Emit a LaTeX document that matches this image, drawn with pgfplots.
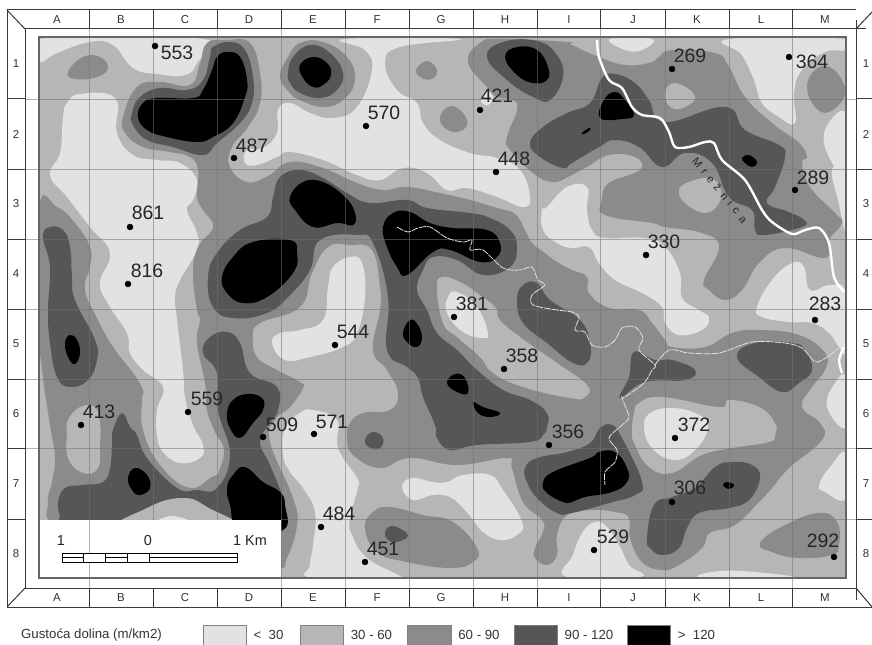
\documentclass[border=0pt]{standalone}
\usepackage{fontspec}
\setmainfont{Liberation Sans}
\usepackage{pgfplots}
\pgfplotsset{compat=1.18}
\definecolor{cA}{HTML}{E2E2E2}
\definecolor{cB}{HTML}{B6B6B6}
\definecolor{cC}{HTML}{8B8B8B}
\definecolor{cD}{HTML}{565656}
\definecolor{cE}{HTML}{000000}
\definecolor{fr}{HTML}{3A3A3A}
% smooth region, square region, line
\newcommand\reg[2]{\addplot[fill=#1,draw=none,smooth cycle,tension=0.75] coordinates {#2};}
\newcommand\rect[3]{\addplot[fill=#1,#2] coordinates {#3} -- cycle;}
\newcommand\lin[2]{\addplot[#1] coordinates {#2};}
\newcommand\pnt[3]{\node[font=\fontsize{19.5}{19.5}\selectfont,text=black!85,inner sep=0pt] at (axis cs:#1,#2) {#3};}
\newcommand\tk[3]{\node[font=\fontsize{11.5}{11.5}\selectfont,text=black!80,inner sep=0pt] at (axis cs:#1,#2) {#3};}
\newcommand\lgd[3]{\node[font=\fontsize{13.3}{13.3}\selectfont,text=black!80,inner sep=0pt] at (axis cs:#1,#2) {#3};}
\begin{document}
\begin{tikzpicture}
\begin{axis}[
    scale only axis, width=872bp, height=645bp,
    xmin=0, xmax=872, ymin=0, ymax=645, y dir=reverse,
    hide axis, clip=true]
% base class 30-60
\rect{cB}{draw=none}{(40,38) (845,38) (845,577) (40,577)}
% class < 30
\reg{cA}{(39,39) (203,39) (197,63) (185,75) (157,74) (133,68) (113,45) (90,42) (57,53) (39,62)}
\reg{cA}{(80,94) (115,98) (117,133) (133,155) (157,160) (180,163) (197,180) (193,200) (187,210) (197,233) (197,250) (180,280) (175,297) (177,320) (183,370) (185,397) (193,425) (203,445) (200,458) (180,463) (163,452) (157,435) (157,410) (163,387) (143,370) (130,353) (127,333) (110,307) (100,283) (110,253) (90,227) (67,197) (50,175) (60,153) (63,117) (67,103)}
\reg{cA}{(345,39) (460,39) (400,47) (385,63) (397,90) (417,103) (423,123) (440,140) (470,153) (497,158) (520,170) (530,197) (523,207) (497,197) (467,188) (447,190) (427,173) (403,168) (380,180) (357,175) (323,160) (290,152) (277,157) (257,165) (245,163) (247,150) (263,148) (277,133) (278,110) (290,103) (310,113) (333,118) (357,107) (372,70) (365,50)}
\reg{cA}{(486,91) (493,97) (488,105) (481,101)}
\reg{cA}{(542,210) (547,207) (567,187) (587,187) (587,210) (592,230) (605,238) (645,238) (665,247) (680,273) (682,298) (699,310) (709,318) (702,330) (679,335) (665,323) (662,307) (642,293) (615,280) (599,263) (589,247) (572,248) (557,243) (543,230)}
\reg{cA}{(757,307) (772,280) (792,263) (804,267) (810,290) (830,285) (846,293) (846,350) (839,347) (829,333) (812,323) (789,322) (762,317)}
\reg{cA}{(610,39) (652,39) (642,50) (625,50)}
\reg{cA}{(729,39) (846,39) (846,50) (825,52) (802,70) (794,93) (795,123) (779,117) (762,103) (754,80) (742,55)}
\reg{cA}{(846,113) (825,130) (829,157) (846,172)}
\reg{cA}{(832,170) (846,170) (846,230) (838,200)}
\reg{cA}{(827,407) (835,383) (846,378) (846,427)}
\reg{cA}{(350,257) (362,263) (365,297) (357,333) (343,347) (310,357) (285,360) (272,343) (280,333) (300,330) (323,320) (328,287) (333,267)}
\reg{cA}{(300,413) (313,410) (337,420) (338,448) (357,478) (358,488) (350,518) (352,535) (367,558) (398,575) (398,578) (313,578) (310,565) (313,545) (315,512) (303,488) (290,472) (283,455) (285,428)}
\reg{cA}{(402,487) (412,478) (433,482) (447,482) (463,475) (490,475) (503,490) (522,522) (517,535) (500,540) (483,532) (472,518) (463,508) (450,497) (433,495) (413,500)}
\reg{cA}{(592,523) (605,525) (619,545) (629,565) (640,577) (567,577) (573,555) (581,535)}
\reg{cA}{(819,485) (830,467) (846,453) (846,498) (825,492)}
\reg{cA}{(702,578) (720,571) (765,573) (790,578)}
% class 60-90
\reg{cC}{(207,43) (227,40) (250,43) (260,73) (260,103) (248,127) (232,147) (230,167) (247,182) (268,176) (290,162) (323,168) (357,183) (383,190) (407,187) (440,193) (470,200) (497,208) (515,214) (525,230) (532,243) (545,253) (557,262) (572,270) (587,277) (589,293) (609,308) (639,310) (652,323) (665,340) (672,347) (705,347) (732,333) (759,330) (799,335) (825,353) (825,370) (812,387) (802,407) (820,423) (822,440) (789,468) (772,488) (759,502) (735,525) (710,533) (702,548) (679,565) (662,570) (642,562) (630,538) (629,518) (615,512) (590,510) (567,515) (557,535) (557,555) (547,565) (535,558) (535,548) (543,532) (542,520) (523,502) (512,468) (507,458) (457,465) (410,458) (380,468) (353,455) (347,438) (350,423) (363,413) (390,410) (398,393) (387,370) (373,350) (380,310) (380,287) (372,250) (350,245) (328,247) (312,273) (300,307) (260,323) (253,337) (257,357) (277,370) (300,382) (303,388) (290,407) (275,420) (270,442) (293,498) (297,525) (287,558) (278,565) (240,525) (217,490) (224,452) (215,432) (207,410) (205,383) (197,343) (200,320) (197,310) (193,273) (198,247) (213,227) (203,210) (197,197) (198,170) (190,157) (170,152) (143,147) (125,133) (123,117) (137,87) (160,82) (190,85) (200,63)}
\reg{cC}{(39,207) (57,207) (75,223) (90,247) (90,267) (85,290) (98,320) (113,347) (133,373) (143,390) (142,400) (143,430) (160,465) (190,488) (217,475) (240,480) (280,530) (130,530) (57,525) (48,502) (52,482) (55,458) (50,425) (43,377) (39,327)}
\reg{cC}{(468,62) (480,43) (500,39) (567,42) (572,45) (599,57) (625,65) (649,63) (659,57) (672,50) (715,53) (729,67) (745,97) (772,123) (799,143) (807,157) (802,163) (810,187) (835,213) (842,223) (829,240) (825,258) (785,248) (759,263) (742,290) (725,300) (709,290) (704,280) (719,247) (702,233) (665,227) (652,223) (605,215) (602,200) (609,183) (640,170) (635,157) (609,155) (587,167) (572,175) (553,182) (533,173) (510,150) (507,137) (517,110) (513,100) (497,97) (487,87)}
\reg{cC}{(68,72) (83,57) (100,57) (108,68) (97,77) (75,79)}
\reg{cC}{(416,70) (427,61) (437,70) (432,79) (422,78)}
\reg{cC}{(440,117) (450,106) (463,113) (467,125) (457,132) (445,128)}
\reg{cC}{(807,87) (815,70) (829,67) (842,80) (844,97) (829,112) (815,107)}
\reg{cC}{(365,528) (373,512) (390,507) (423,515) (453,522) (477,548) (473,562) (450,568) (407,562) (377,552)}
\reg{cC}{(760,543) (785,525) (819,513) (837,522) (839,545) (832,555) (799,558) (772,552)}
\reg{cC}{(280,77) (288,57) (300,43) (323,42) (347,57) (355,80) (343,100) (323,107) (300,100) (290,93)}
% class 30-60 and < 30 inside the darker areas
\reg{cB}{(437,287) (443,277) (460,282) (477,293) (495,307) (500,320) (520,337) (557,363) (587,385) (585,397) (570,398) (523,387) (493,373) (480,357) (457,337) (443,323)}
\reg{cB}{(68,420) (80,407) (95,407) (100,423) (100,445) (98,468) (83,473) (68,458) (67,432)}
\reg{cB}{(665,97) (669,85) (682,85) (695,97) (685,107) (672,108)}
\reg{cB}{(679,190) (689,182) (709,178) (720,187) (719,203) (705,213) (685,203)}
\reg{cB}{(634,413) (639,403) (662,397) (719,407) (729,400) (759,407) (775,423) (775,435) (769,442) (732,448) (702,455) (672,473) (649,467) (635,445) (632,432)}
\reg{cB}{(572,382) (588,388) (585,396) (572,397)}
\reg{cA}{(448,297) (457,292) (477,307) (488,333) (483,338) (463,332) (447,313)}
\reg{cA}{(644,425) (652,412) (672,408) (695,413) (708,425) (697,448) (675,460) (652,448)}
% class 90-120
\reg{cD}{(273,197) (280,177) (300,170) (323,178) (347,193) (370,203) (407,200) (427,208) (470,213) (490,218) (510,230) (517,247) (510,267) (483,275) (457,260) (433,257) (423,270) (417,290) (427,310) (437,333) (457,350) (477,370) (503,390) (530,400) (547,413) (547,427) (543,435) (530,442) (477,445) (450,450) (437,438) (435,425) (423,397) (418,378) (407,367) (387,350) (388,297) (373,243) (357,235) (320,240) (310,270) (290,295) (267,313) (233,318) (213,307) (208,277) (217,253) (240,230) (267,217)}
\reg{cD}{(213,47) (230,42) (245,50) (253,77) (252,103) (240,123) (217,143) (203,155) (173,147) (147,140) (133,125) (132,113) (140,97) (160,88) (187,90) (203,80) (210,57)}
\reg{cD}{(288,73) (293,57) (310,45) (330,53) (343,73) (337,90) (320,98) (300,93) (290,83)}
\reg{cD}{(487,57) (503,42) (537,41) (557,55) (563,77) (550,100) (533,97) (507,80)}
\reg{cD}{(530,143) (543,127) (567,113) (590,103) (602,78) (615,74) (635,83) (649,100) (665,122) (725,107) (745,130) (779,145) (785,157) (775,187) (767,203) (789,212) (804,220) (802,227) (765,235) (755,230) (752,210) (729,197) (712,163) (685,153) (662,167) (639,147) (615,140) (599,147) (572,163) (563,168) (540,157)}
\reg{cD}{(43,237) (50,227) (63,230) (70,247) (72,277) (75,300) (95,340) (97,360) (88,380) (70,387) (57,377) (50,343) (48,310) (50,267)}
\reg{cD}{(113,430) (122,413) (130,427) (137,435) (147,458) (177,488) (197,490) (217,488) (230,455) (218,410) (217,373) (203,353) (210,337) (227,332) (240,343) (250,373) (277,387) (278,410) (270,423) (260,442) (270,465) (283,498) (285,515) (280,530) (270,532) (60,532) (60,518) (58,503) (65,488) (83,485) (103,482) (110,468) (112,445)}
\reg{cD}{(525,468) (537,458) (567,452) (590,443) (600,428) (612,425) (622,438) (642,482) (635,495) (609,503) (572,513) (557,513) (537,498) (527,482)}
\reg{cD}{(647,538) (654,505) (672,497) (695,488) (715,467) (732,462) (752,465) (760,478) (749,500) (729,508) (699,513) (687,528) (679,548) (662,555) (650,548)}
\reg{cD}{(620,398) (629,377) (634,352) (655,360) (672,360) (695,370) (685,380) (645,382)}
\reg{cD}{(737,357) (755,343) (792,343) (805,350) (812,370) (799,383) (782,392) (759,377)}
\reg{cD}{(517,300) (523,285) (537,283) (550,300) (580,320) (590,343) (588,362) (573,363) (547,343) (523,323)}
\reg{cD}{(365,440) (373,432) (383,438) (380,448) (370,448)}
\reg{cD}{(385,532) (393,526) (408,535) (397,542) (388,540)}
% hump above the scale box
\reg{cB}{(120,530) (147,508) (182,498) (207,507) (235,530)}
\reg{cA}{(155,525) (172,516) (195,525)}
% class > 120
\reg{cE}{(217,57) (227,52) (240,57) (247,80) (245,97) (233,123) (213,137) (197,142) (167,137) (147,130) (138,117) (143,103) (157,98) (193,98) (203,90) (212,70)}
\reg{cE}{(300,65) (313,57) (327,63) (331,75) (323,85) (313,87) (303,78)}
\reg{cE}{(505,57) (517,47) (537,50) (548,67) (547,80) (533,83) (517,75)}
\reg{cE}{(600,118) (604,100) (615,92) (625,100) (634,115) (622,119)}
\reg{cE}{(582,133) (589,128) (590,130) (584,134)}
\reg{cE}{(742,158) (749,155) (757,162) (752,167) (745,163)}
\reg{cE}{(290,197) (303,182) (323,182) (345,197) (355,213) (353,225) (337,223) (313,227) (295,210)}
\reg{cE}{(383,227) (393,213) (410,212) (430,223) (453,228) (487,230) (500,243) (497,257) (480,262) (450,250) (433,252) (407,275) (397,267) (387,247)}
\reg{cE}{(222,277) (233,257) (253,242) (290,240) (297,253) (293,273) (267,297) (243,303) (227,293)}
\reg{cE}{(403,333) (410,320) (418,325) (422,338) (417,347) (408,343)}
\reg{cE}{(447,383) (455,374) (465,378) (468,393) (457,392)}
\reg{cE}{(473,402) (483,407) (500,413) (490,417) (478,413)}
\reg{cE}{(65,343) (70,335) (77,340) (80,353) (75,364) (68,357)}
\reg{cE}{(227,413) (233,400) (247,394) (262,398) (263,410) (253,423) (240,438) (230,428)}
\reg{cE}{(227,488) (233,475) (245,467) (263,482) (280,492) (285,505) (283,530) (240,530) (230,505)}
\reg{cE}{(128,478) (135,468) (147,475) (150,488) (140,495) (132,490)}
\reg{cE}{(543,483) (553,472) (590,458) (599,452) (615,452) (627,468) (627,482) (612,492) (585,497) (572,502) (563,502) (547,493)}
\reg{cE}{(723,485) (727,482) (734,485) (729,489)}
% white margins and scale box
\rect{white}{draw=none}{(0,0) (872,0) (872,37) (0,37)}
\rect{white}{draw=none}{(0,578) (872,578) (872,645) (0,645)}
\rect{white}{draw=none}{(0,0) (39,0) (39,645) (0,645)}
\rect{white}{draw=none}{(846,0) (872,0) (872,645) (846,645)}
\rect{white}{draw=none}{(39,520) (281,520) (281,578) (39,578)}
% grid
\lin{black!55,opacity=0.55,line width=0.7bp}{(89,29) (89,588)}
\lin{black!55,opacity=0.55,line width=0.7bp}{(153,29) (153,520)}
\lin{black!55,opacity=0.55,line width=0.7bp}{(217,29) (217,520)}
\lin{black!55,opacity=0.55,line width=0.7bp}{(281,29) (281,588)}
\lin{black!55,opacity=0.55,line width=0.7bp}{(345,29) (345,588)}
\lin{black!55,opacity=0.55,line width=0.7bp}{(409,29) (409,588)}
\lin{black!55,opacity=0.55,line width=0.7bp}{(473,29) (473,588)}
\lin{black!55,opacity=0.55,line width=0.7bp}{(537,29) (537,588)}
\lin{black!55,opacity=0.55,line width=0.7bp}{(600,29) (600,588)}
\lin{black!55,opacity=0.55,line width=0.7bp}{(665,29) (665,588)}
\lin{black!55,opacity=0.55,line width=0.7bp}{(729,29) (729,588)}
\lin{black!55,opacity=0.55,line width=0.7bp}{(792,29) (792,588)}
\lin{black!55,opacity=0.55,line width=0.7bp}{(25,99) (856,99)}
\lin{black!55,opacity=0.55,line width=0.7bp}{(25,169) (856,169)}
\lin{black!55,opacity=0.55,line width=0.7bp}{(25,239) (856,239)}
\lin{black!55,opacity=0.55,line width=0.7bp}{(25,309) (856,309)}
\lin{black!55,opacity=0.55,line width=0.7bp}{(25,379) (856,379)}
\lin{black!55,opacity=0.55,line width=0.7bp}{(25,448) (856,448)}
\lin{black!55,opacity=0.55,line width=0.7bp}{(281,519) (856,519)}
% rivers
\lin{white,line width=2.4bp,smooth,tension=0.5}{(597,40) (599,57) (609,80) (622,88) (632,107) (642,115) (660,118) (669,132) (675,147) (689,147) (705,142) (714,143) (722,160) (745,180) (762,210) (772,222) (792,234) (805,230) (819,228) (829,243) (834,277) (844,292)}
\lin{white,line width=2.4bp,smooth,tension=0.5}{(844,347) (839,360) (842,373)}
\lin{black!12,line width=0.8bp,dash pattern=on 7bp off 1bp,smooth,tension=0.5}{(397,227) (408,232) (418,228) (430,227) (447,238) (463,242) (472,240) (470,250) (483,250) (503,268) (520,270) (532,267) (538,280) (545,285) (532,295) (533,305) (557,310) (572,312) (579,317) (575,330) (585,332) (592,345) (605,347) (615,340) (622,328) (635,327) (643,338) (639,350) (655,365) (652,370) (644,383) (625,397) (622,398) (629,417) (622,425) (609,438) (617,450) (615,462) (605,472) (605,485)}
\lin{black!12,line width=0.8bp,dash pattern=on 7bp off 1bp,smooth,tension=0.5}{(655,365) (669,350) (689,353) (719,353) (752,342) (785,343) (802,348) (817,362) (839,348)}
% map border and frame
\rect{none}{draw=black!60,line width=1.6bp}{(39,37) (846,37) (846,578) (39,578)}
\lin{fr,line width=1bp}{(7,607) (7,10) (856,10)}
\lin{fr,line width=1bp}{(7,607) (872,607)}
\lin{fr,line width=1bp}{(25,588) (25,29) (866,29)}
\lin{fr,line width=1bp}{(25,588) (856,588)}
\lin{fr,line width=1bp}{(856,20) (856,600)}
\lin{fr,line width=1bp}{(7,10) (25,29)}
\lin{fr,line width=1bp}{(7,607) (25,588)}
\lin{fr,line width=1bp}{(856,29) (872,12)}
\lin{fr,line width=1bp}{(856,588) (872,607)}
\lin{fr,line width=1bp}{(89,10) (89,29)}
\lin{fr,line width=1bp}{(153,10) (153,29)}
\lin{fr,line width=1bp}{(217,10) (217,29)}
\lin{fr,line width=1bp}{(281,10) (281,29)}
\lin{fr,line width=1bp}{(345,10) (345,29)}
\lin{fr,line width=1bp}{(409,10) (409,29)}
\lin{fr,line width=1bp}{(473,10) (473,29)}
\lin{fr,line width=1bp}{(537,10) (537,29)}
\lin{fr,line width=1bp}{(600,10) (600,29)}
\lin{fr,line width=1bp}{(665,10) (665,29)}
\lin{fr,line width=1bp}{(729,10) (729,29)}
\lin{fr,line width=1bp}{(792,10) (792,29)}
\lin{fr,line width=1bp}{(89,588) (89,607)}
\lin{fr,line width=1bp}{(153,588) (153,607)}
\lin{fr,line width=1bp}{(217,588) (217,607)}
\lin{fr,line width=1bp}{(281,588) (281,607)}
\lin{fr,line width=1bp}{(345,588) (345,607)}
\lin{fr,line width=1bp}{(409,588) (409,607)}
\lin{fr,line width=1bp}{(473,588) (473,607)}
\lin{fr,line width=1bp}{(537,588) (537,607)}
\lin{fr,line width=1bp}{(600,588) (600,607)}
\lin{fr,line width=1bp}{(665,588) (665,607)}
\lin{fr,line width=1bp}{(729,588) (729,607)}
\lin{fr,line width=1bp}{(792,588) (792,607)}
\lin{fr,line width=1bp}{(7,99) (25,99)}
\lin{fr,line width=1bp}{(7,169) (25,169)}
\lin{fr,line width=1bp}{(7,239) (25,239)}
\lin{fr,line width=1bp}{(7,309) (25,309)}
\lin{fr,line width=1bp}{(7,379) (25,379)}
\lin{fr,line width=1bp}{(7,448) (25,448)}
\lin{fr,line width=1bp}{(7,519) (25,519)}
\lin{fr,line width=1bp}{(856,99) (872,99)}
\lin{fr,line width=1bp}{(856,169) (872,169)}
\lin{fr,line width=1bp}{(856,239) (872,239)}
\lin{fr,line width=1bp}{(856,309) (872,309)}
\lin{fr,line width=1bp}{(856,379) (872,379)}
\lin{fr,line width=1bp}{(856,448) (872,448)}
\lin{fr,line width=1bp}{(856,519) (872,519)}
% scale bar
\rect{white}{draw=black,line width=0.8bp}{(62,553) (237,553) (237,562) (62,562)}
\lin{black,line width=0.8bp}{(62,557.5) (83,557.5)}
\lin{black,line width=0.8bp}{(105,557.5) (127,557.5)}
\lin{black,line width=0.8bp}{(149,557.5) (237,557.5)}
\lin{black,line width=0.8bp}{(83,553) (83,562)}
\lin{black,line width=0.8bp}{(105,553) (105,562)}
\lin{black,line width=0.8bp}{(127,553) (127,562)}
\lin{black,line width=0.8bp}{(149,553) (149,562)}
\node[font=\fontsize{14.5}{14.5}\selectfont,text=black!85,inner sep=0pt] at (axis cs:61,541) {1};
\node[font=\fontsize{14.5}{14.5}\selectfont,text=black!85,inner sep=0pt] at (axis cs:148,541) {0};
\node[font=\fontsize{14.5}{14.5}\selectfont,text=black!85,inner sep=0pt] at (axis cs:250,541) {1 Km};
% legend
\rect{cA}{draw=black!50,line width=1bp}{(203,625) (246,625) (246,645) (203,645)}
\rect{cB}{draw=black!50,line width=1bp}{(300,625) (343,625) (343,645) (300,645)}
\rect{cC}{draw=black!50,line width=1bp}{(407,625) (451,625) (451,645) (407,645)}
\rect{cD}{draw=black!50,line width=1bp}{(514,625) (557,625) (557,645) (514,645)}
\rect{cE}{draw=black!50,line width=1bp}{(627,625) (670,625) (670,645) (627,645)}
\lgd{91.5}{635}{Gustoća dolina (m/km2)}
\lgd{268.5}{635}{<\ \ 30}
\lgd{371.5}{635}{30 - 60}
\lgd{479}{635}{60 - 90}
\lgd{589}{635}{90 - 120}
\lgd{696.5}{635}{>\ \ 120}
% sample points
\addplot[only marks,mark=*,mark size=3bp,mark options={fill=black,draw=black}] coordinates {
(155,46) (366,126) (480,110) (496,172) (672,69) (789,57) (234,158) (795,190)
(130,227) (128,284) (646,255) (815,320) (454,317) (335,345) (504,369) (188,412)
(81,425) (263,437) (314,434) (549,445) (675,438) (672,502) (321,527) (365,562)
(594,550) (834,557)};
\pnt{177}{53}{553}
\pnt{384}{113}{570}
\pnt{497}{96}{421}
\pnt{514}{159}{448}
\pnt{690}{56}{269}
\pnt{812}{62}{364}
\pnt{252}{146}{487}
\pnt{813}{178}{289}
\pnt{148}{213}{861}
\pnt{147}{271}{816}
\pnt{664}{242}{330}
\pnt{825}{304}{283}
\pnt{472}{304}{381}
\pnt{353}{332}{544}
\pnt{522}{356}{358}
\pnt{207}{399}{559}
\pnt{99}{412}{413}
\pnt{282}{425}{509}
\pnt{332}{422}{571}
\pnt{568}{432}{356}
\pnt{694}{425}{372}
\pnt{690}{488}{306}
\pnt{339}{514}{484}
\pnt{383}{549}{451}
\pnt{613}{537}{529}
\pnt{823}{541}{292}
% grid letters and numbers
\tk{57}{20}{A}\tk{121}{20}{B}\tk{185}{20}{C}\tk{249}{20}{D}\tk{313}{20}{E}\tk{377}{20}{F}\tk{441}{20}{G}\tk{505}{20}{H}\tk{569}{20}{I}\tk{633}{20}{J}\tk{697}{20}{K}\tk{761}{20}{L}\tk{825}{20}{M}
\tk{57}{598}{A}\tk{121}{598}{B}\tk{185}{598}{C}\tk{249}{598}{D}\tk{313}{598}{E}\tk{377}{598}{F}\tk{441}{598}{G}\tk{505}{598}{H}\tk{569}{598}{I}\tk{633}{598}{J}\tk{697}{598}{K}\tk{761}{598}{L}\tk{825}{598}{M}
\tk{16}{64}{1}\tk{16}{134}{2}\tk{16}{204}{3}\tk{16}{274}{4}\tk{16}{344}{5}\tk{16}{414}{6}\tk{16}{484}{7}\tk{16}{554}{8}
\tk{866}{64}{1}\tk{866}{134}{2}\tk{866}{204}{3}\tk{866}{274}{4}\tk{866}{344}{5}\tk{866}{414}{6}\tk{866}{484}{7}\tk{866}{554}{8}
% river name
\node[font=\fontsize{11}{11}\selectfont\addfontfeature{LetterSpace=47},text=black!85,inner sep=0pt,rotate=-51] at (axis cs:720,190) {Mrežnica};
\end{axis}
\end{tikzpicture}
\end{document}
